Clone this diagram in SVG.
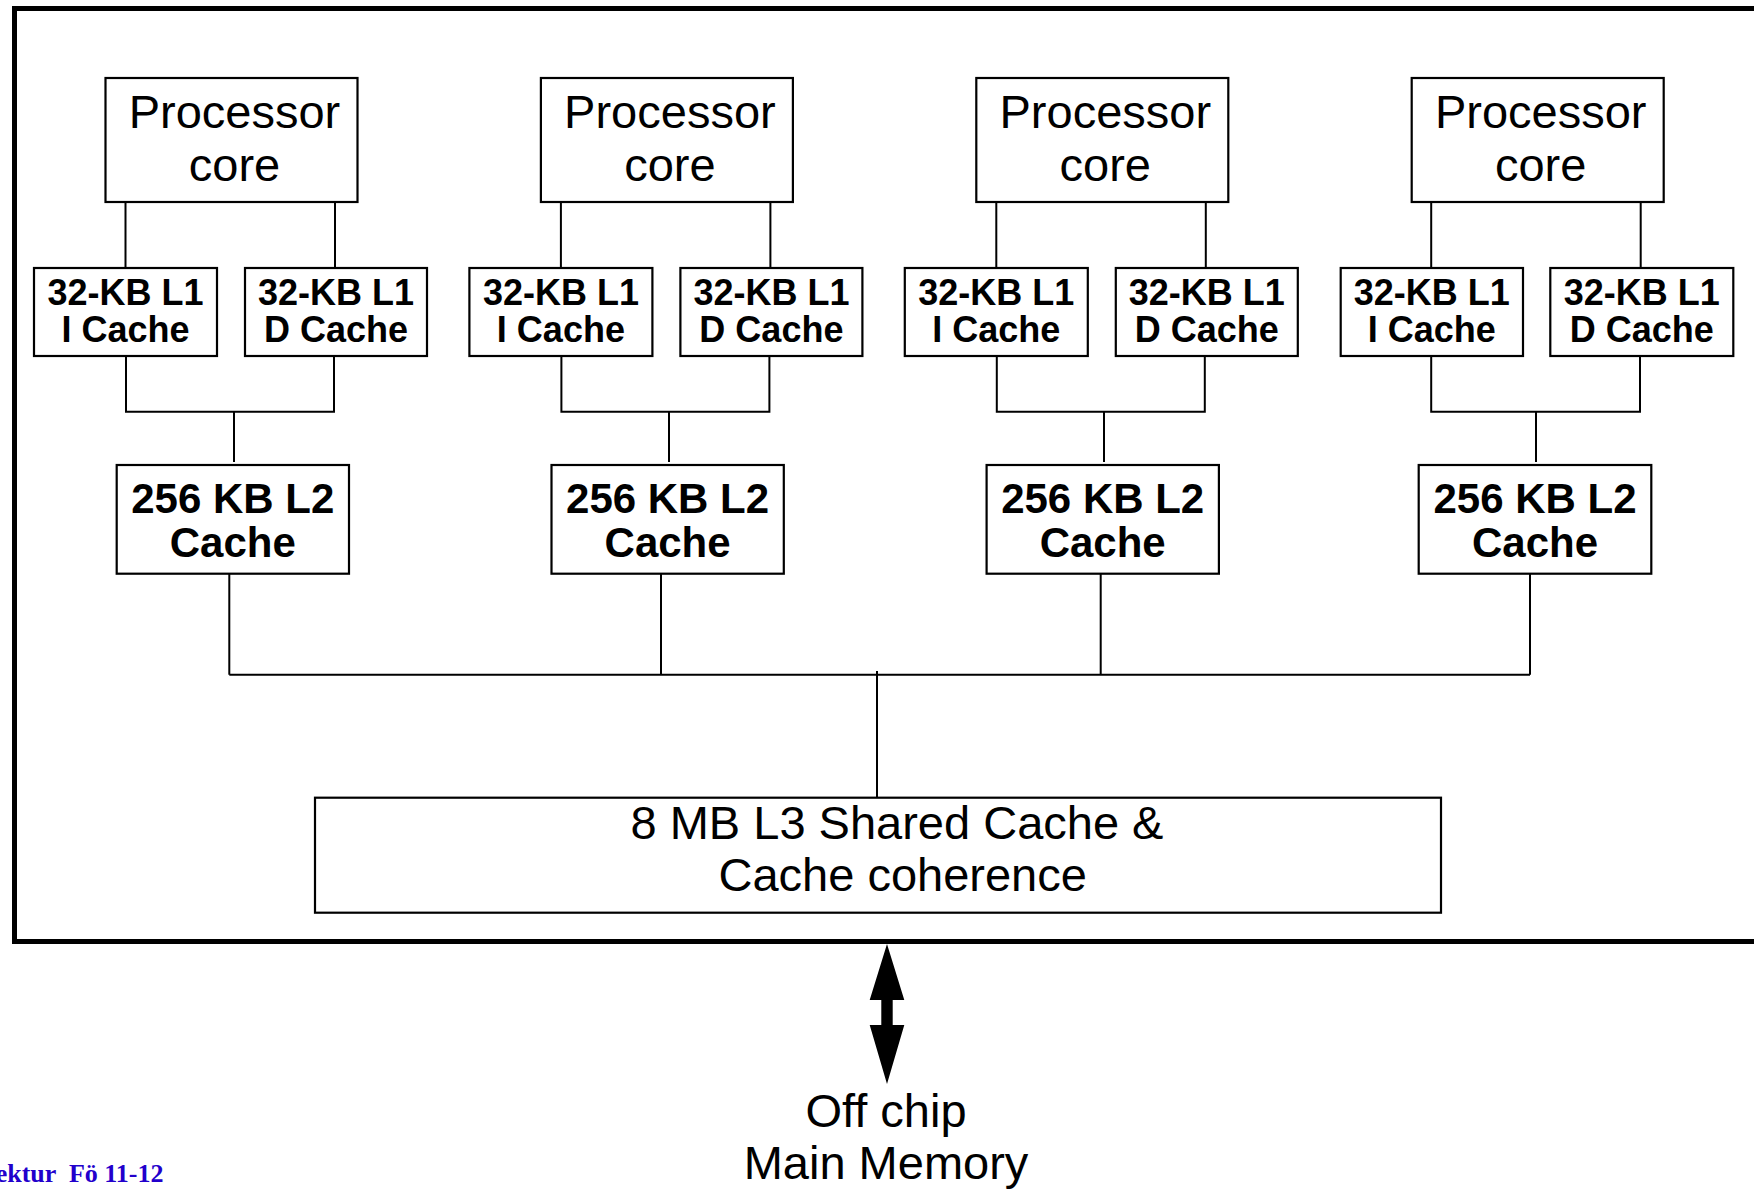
<svg xmlns="http://www.w3.org/2000/svg" width="1754" height="1191" viewBox="0 0 1754 1191">
<style>
.box{fill:#fff;stroke:#000;stroke-width:2.2}
.ln{fill:none;stroke:#000;stroke-width:2}
.t{font-family:"Liberation Sans",Arial,sans-serif;fill:#000;text-anchor:middle}
.pc{font-size:47px}
.l1{font-size:36px;font-weight:bold}
.l2{font-size:42px;font-weight:bold}
.big{font-size:47px}
.foot{font-family:"Liberation Serif","Times New Roman",serif;font-size:26px;font-weight:bold;fill:#2200CC;text-anchor:end;white-space:pre}
</style>
<rect width="1754" height="1191" fill="#fff"/>
<rect id="chip" x="14.5" y="8.5" width="1800" height="933" fill="none" stroke="#000" stroke-width="5"/>
<g id="connectors">
<path class="ln" d="M125.5 202V268M335 202V268M126 356V411.7H334V356M234 411.7V462M229.3 574V674.7"/>
<path class="ln" d="M560.9 202V268M770.4 202V268M561.4 356V411.7H769.4V356M669 411.7V462M661 574V674.7"/>
<path class="ln" d="M996.3 202V268M1205.8 202V268M996.8 356V411.7H1204.8V356M1104 411.7V462M1100.7 574V674.7"/>
<path class="ln" d="M1431.2 202V268M1640.7 202V268M1431.2 356V411.7H1640V356M1536 411.7V462M1530 574V674.7"/>
<path class="ln" d="M229.3 674.7H1530M877 671V797.7"/>
<polygon id="mem-arrow" points="887,944 904.3,1000 892.7,1000 892.7,1025 904.3,1025 887,1084 869.7,1025 881.3,1025 881.3,1000 869.7,1000" fill="#000"/>
</g>
<g id="core0">
<g id="proc0"><rect class="box" x="105.5" y="78" width="252" height="124"/><text class="t pc" x="234.5" y="127.7">Processor</text><text class="t pc" x="234.5" y="181">core</text></g>
<g id="l1i0"><rect class="box" x="34" y="268" width="183" height="88"/><text class="t l1" x="125.5" y="305">32-KB L1</text><text class="t l1" x="125.5" y="341.7">I Cache</text></g>
<g id="l1d0"><rect class="box" x="245" y="268" width="182" height="88"/><text class="t l1" x="336" y="305">32-KB L1</text><text class="t l1" x="336" y="341.7">D Cache</text></g>
<g id="l20"><rect class="box" x="116.7" y="465" width="232.3" height="108.7"/><text class="t l2" x="232.8" y="513.3">256 KB L2</text><text class="t l2" x="232.8" y="556.7">Cache</text></g>
</g>
<g id="core1">
<g id="proc1"><rect class="box" x="540.9" y="78" width="252" height="124"/><text class="t pc" x="669.9" y="127.7">Processor</text><text class="t pc" x="669.9" y="181">core</text></g>
<g id="l1i1"><rect class="box" x="469.4" y="268" width="183" height="88"/><text class="t l1" x="560.9" y="305">32-KB L1</text><text class="t l1" x="560.9" y="341.7">I Cache</text></g>
<g id="l1d1"><rect class="box" x="680.4" y="268" width="182" height="88"/><text class="t l1" x="771.4" y="305">32-KB L1</text><text class="t l1" x="771.4" y="341.7">D Cache</text></g>
<g id="l21"><rect class="box" x="551.5" y="465" width="232.3" height="108.7"/><text class="t l2" x="667.6" y="513.3">256 KB L2</text><text class="t l2" x="667.6" y="556.7">Cache</text></g>
</g>
<g id="core2">
<g id="proc2"><rect class="box" x="976.3" y="78" width="252" height="124"/><text class="t pc" x="1105.3" y="127.7">Processor</text><text class="t pc" x="1105.3" y="181">core</text></g>
<g id="l1i2"><rect class="box" x="904.8" y="268" width="183" height="88"/><text class="t l1" x="996.3" y="305">32-KB L1</text><text class="t l1" x="996.3" y="341.7">I Cache</text></g>
<g id="l1d2"><rect class="box" x="1115.8" y="268" width="182" height="88"/><text class="t l1" x="1206.8" y="305">32-KB L1</text><text class="t l1" x="1206.8" y="341.7">D Cache</text></g>
<g id="l22"><rect class="box" x="986.6" y="465" width="232.3" height="108.7"/><text class="t l2" x="1102.7" y="513.3">256 KB L2</text><text class="t l2" x="1102.7" y="556.7">Cache</text></g>
</g>
<g id="core3">
<g id="proc3"><rect class="box" x="1411.7" y="78" width="252" height="124"/><text class="t pc" x="1540.7" y="127.7">Processor</text><text class="t pc" x="1540.7" y="181">core</text></g>
<g id="l1i3"><rect class="box" x="1340.7" y="268" width="182.3" height="88"/><text class="t l1" x="1431.8" y="305">32-KB L1</text><text class="t l1" x="1431.8" y="341.7">I Cache</text></g>
<g id="l1d3"><rect class="box" x="1550.3" y="268" width="183" height="88"/><text class="t l1" x="1641.8" y="305">32-KB L1</text><text class="t l1" x="1641.8" y="341.7">D Cache</text></g>
<g id="l23"><rect class="box" x="1418.7" y="465" width="232.6" height="108.7"/><text class="t l2" x="1535" y="513.3">256 KB L2</text><text class="t l2" x="1535" y="556.7">Cache</text></g>
</g>
<g id="l3">
<rect class="box" x="315" y="797.7" width="1126" height="115"/>
<text class="t big" x="897" y="838.5">8 MB L3 Shared Cache &amp;</text>
<text class="t big" x="902.7" y="891">Cache coherence</text>
</g>
<g id="memory">
<text class="t big" x="886" y="1127">Off chip</text>
<text class="t big" x="886" y="1179">Main Memory</text>
</g>
<text class="foot" x="163.5" y="1181.5">ektur  Fö 11-12</text>
</svg>
